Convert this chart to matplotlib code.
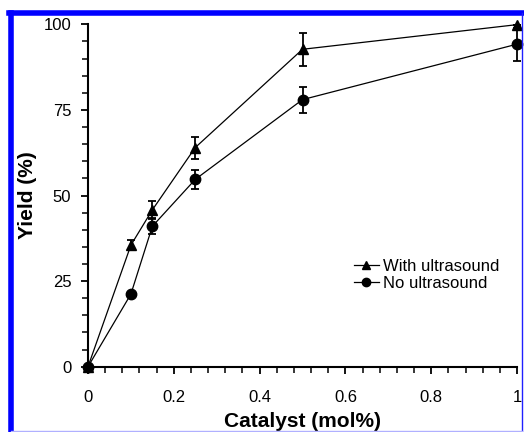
import matplotlib
matplotlib.use('Agg')
import matplotlib.pyplot as plt
from matplotlib.lines import Line2D
from matplotlib.ticker import MultipleLocator

# catalyst loading (mol%)
catalyst = [0, 0.1, 0.15, 0.25, 0.5, 1.0]

# yields (%)
with_us = [0, 35.5, 45.8, 64.0, 92.7, 99.9]
with_us_err = [0, 1.5, 2.5, 3.2, 4.8, 0]
no_us = [0, 21.2, 41.0, 54.7, 78.0, 94.2]
no_us_err = [0, 0, 2.2, 2.8, 3.8, 4.8]

labels = ['With ultrasound', 'No ultrasound']
x_ticks = [0, 0.2, 0.4, 0.6, 0.8, 1]
x_tick_labels = ['0', '0.2', '0.4', '0.6', '0.8', '1']
y_ticks = [0, 25, 50, 75, 100]


def init():
    plt.rcParams['font.family'] = ['Liberation Sans', 'DejaVu Sans']
    fig = plt.figure(figsize=(5.24, 4.32), dpi=100)
    ax = fig.add_axes([88 / 524, 1 - 366.7 / 432, 429 / 524, 342.4 / 432])

    ax.errorbar(catalyst, with_us, yerr=with_us_err, color='black', marker='^',
                markersize=7.5, linewidth=0.9, elinewidth=1.3, capsize=3,
                capthick=1.3, label=labels[0], clip_on=False, zorder=3)
    ax.errorbar(catalyst, no_us, yerr=no_us_err, color='black', marker='o',
                markersize=7.5, linewidth=0.9, elinewidth=1.3, capsize=3,
                capthick=1.3, label=labels[1], clip_on=False, zorder=3)

    ax.set_xlim(0, 1)
    ax.set_ylim(0, 100)
    ax.set_xticks(x_ticks)
    ax.set_xticklabels(x_tick_labels)
    ax.set_yticks(y_ticks)
    ax.xaxis.set_minor_locator(MultipleLocator(0.04))
    ax.yaxis.set_minor_locator(MultipleLocator(5))
    ax.spines['top'].set_visible(False)
    ax.spines['right'].set_visible(False)
    for s in ('left', 'bottom'):
        ax.spines[s].set_linewidth(1.5)
    ax.tick_params(which='major', direction='out', length=5, width=1.3,
                   labelsize=12, pad=7)
    ax.tick_params(which='minor', direction='out', length=4, width=1.1)
    ax.tick_params(axis='x', which='major', pad=12)

    ax.set_xlabel('Catalyst (mol%)', fontsize=15, fontweight='bold', labelpad=5)
    ax.set_ylabel('Yield (%)', fontsize=15, fontweight='bold', labelpad=5)

    handles, lbls = ax.get_legend_handles_labels()
    handles = [h[0] for h in handles]
    ax.legend(handles, lbls, loc='center left', frameon=False,
              bbox_to_anchor=(0.584, 0.268), fontsize=12,
              handlelength=1.5, handletextpad=0.25, labelspacing=0.15,
              markerscale=0.8)

    # blue frame around the figure
    W, H = 524, 432
    fig.add_artist(Line2D([10.5 / W, 10.5 / W], [1 - 13 / H, 1 - 430.5 / H],
                          transform=fig.transFigure, color='#0000ff', linewidth=4))
    fig.add_artist(Line2D([8.5 / W, 522 / W], [1 - 13 / H, 1 - 13 / H],
                          transform=fig.transFigure, color='#0000ff', linewidth=4))
    fig.add_artist(Line2D([521.5 / W, 521.5 / W], [1 - 13 / H, 1 - 430.5 / H],
                          transform=fig.transFigure, color='#2020ff', linewidth=1))
    fig.add_artist(Line2D([10.5 / W, 522 / W], [1 - 430.5 / H, 1 - 430.5 / H],
                          transform=fig.transFigure, color='#b0b0ff', linewidth=1))

    plt.savefig('out.png', dpi=100)


if __name__ == '__main__':
    init()
